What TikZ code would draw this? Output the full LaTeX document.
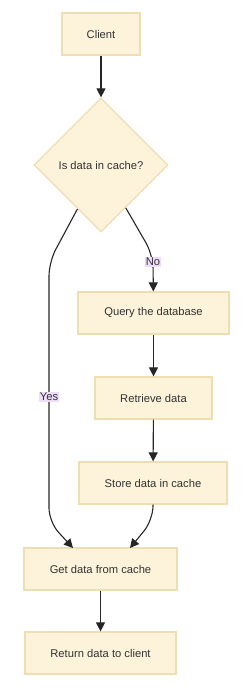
\documentclass[tikz,border=0pt]{standalone}
\usepackage{fontspec}
\setmainfont{Liberation Sans}
\usetikzlibrary{shapes.geometric, arrows.meta}
\definecolor{boxfill}{HTML}{FDF2DA}
\definecolor{boxline}{HTML}{EFDDB4}
\definecolor{labelbg}{HTML}{F0DCFA}
\definecolor{inkgray}{HTML}{333333}

\begin{document}
\begin{tikzpicture}[x=1pt, y=-1pt,
  every node/.style={font=\fontsize{11.2}{13}\selectfont, text=inkgray},
  flowbox/.style={rectangle, fill=boxfill, draw=boxline, line width=1.2pt, minimum height=42pt, inner sep=0pt},
  decision/.style={diamond, fill=boxfill, draw=boxline, line width=1.2pt, minimum width=134pt, minimum height=134pt, inner sep=0pt},
  flow/.style={draw=black!85, line width=1.1pt, -{Triangle[length=9pt, width=9pt]}, rounded corners=14pt},
  edgelabel/.style={fill=labelbg, inner sep=1.2pt}]
\useasboundingbox (0,0) rectangle (247,690);

% nodes
\node[flowbox, minimum width=78pt] (client) at (101,34) {Client};
\node[decision] (cache) at (101,165) {Is data in cache?};
\node[flowbox, minimum width=151pt] (query) at (153.5,313) {Query the database};
\node[flowbox, minimum width=117pt] (retrieve) at (153.5,398) {Retrieve data};
\node[flowbox, minimum width=148pt] (store) at (153,483) {Store data in cache};
\node[flowbox, minimum width=153pt] (getdata) at (100.5,569) {Get data from cache};
\node[flowbox, minimum width=151pt] (return) at (100.5,653) {Return data to client};

% bends
\coordinate (nobend) at (153,255);
\coordinate (yestop) at (49,262);
\coordinate (yesbottom) at (49,522);
\coordinate (yesin) at (73,548);
\coordinate (storebend) at (153,520);
\coordinate (storein) at (130,548);

% connectors
\draw[flow] (client) -- (cache);
\draw[flow] (cache) -- (nobend) -- (query);
\draw[flow] (cache) -- (yestop) -- (yesbottom) -- (yesin);
\draw[flow] (query) -- (retrieve);
\draw[flow] (retrieve) -- (store);
\draw[flow] (store) -- (storebend) -- (storein);
\draw[flow] (getdata) -- (return);

% edge labels
\node[edgelabel] (nolabel) at (153,262) {No};
\node[edgelabel] (yeslabel) at (49,397) {Yes};
\end{tikzpicture}
\end{document}
